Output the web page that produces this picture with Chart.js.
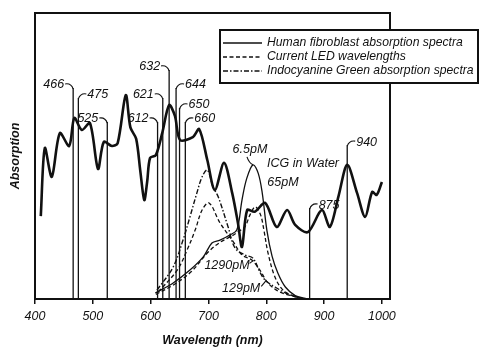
<!DOCTYPE html>
<html>
<head>
<meta charset="utf-8">
<script src="https://cdn.jsdelivr.net/npm/chart.js@4.4.0/dist/chart.umd.min.js"></script>
<style>
  html, body { margin: 0; padding: 0; background: #fff; }
  canvas { display: block; }
</style>
</head>
<body>
<canvas id="chart" width="500" height="362"></canvas>
<script>
// human fibroblast absorption (nm, relative absorption)
const fibroNm = [410, 417, 429, 443, 459, 468, 481, 495, 509, 519, 533, 543, 557, 565, 575, 582, 589, 594, 599, 609, 620, 632, 642, 651, 673, 684, 698, 711, 727, 741, 751, 758, 767, 780, 798, 818, 836, 850, 872, 896, 910, 925, 940, 957, 971, 983, 991, 1000];
const fibroAbs = [29, 52.8, 42.7, 58, 53.5, 63.3, 59.1, 61.5, 45.5, 54.9, 53.5, 54.5, 71.3, 60, 56, 45, 34.6, 41, 49.3, 50.3, 58, 67.8, 64, 55.6, 56.6, 59.4, 48.6, 38.1, 47.6, 37.1, 26.6, 18.2, 31.1, 30.5, 33.6, 25.2, 31.1, 25.9, 23.4, 31.1, 25.2, 36, 46.9, 37.1, 28.7, 37.4, 36.4, 40.9];

// ICG in water, four concentrations
const icg6Nm = [608, 639, 668, 691, 706, 720, 737, 749, 758, 766, 777, 786, 793, 801, 810, 820, 833, 850, 868];
const icg6Abs = [2.1, 5.6, 10.1, 14.7, 19.6, 20.6, 22.4, 24.1, 34.6, 42, 46.9, 44, 37.1, 24.1, 15, 9.1, 4.2, 1.2, 0.2];

const icg65Nm = [609, 640, 670, 700, 720, 740, 752, 763, 772, 781, 790, 796, 803, 815, 829, 850, 868];
const icg65Abs = [1.6, 5, 9.5, 16.5, 19.8, 22, 23.6, 25.2, 29.5, 32.2, 29.5, 24, 16.1, 7.7, 3.1, 0.8, 0];

const icg1290Nm = [611, 639, 656, 668, 680, 689, 698, 708, 717, 734, 746, 763, 777, 789, 798, 815, 841, 867];
const icg1290Abs = [3.1, 11.2, 20.6, 28.7, 37.1, 42.7, 45.1, 39.2, 35.7, 25.2, 17.8, 15.4, 14.3, 9.4, 6.6, 4.2, 1.4, 0];

const icg129Nm = [613, 646, 663, 677, 689, 701, 720, 743, 758, 775, 789, 803, 824, 867];
const icg129Abs = [2.4, 10.1, 17.1, 24.1, 31.1, 33.6, 26.6, 20, 15.4, 13.6, 10.1, 5.6, 2.4, 0];

// LED wavelengths, height of marker line, which side the label sits
const ledNm = [466, 475, 525, 612, 621, 632, 644, 650, 660, 875, 940];
const ledTop = [73.8, 70.3, 61.9, 61.9, 70.3, 80.1, 73.8, 66.8, 61.9, 31.8, 53.8];
const ledSide = ['left', 'right', 'left', 'left', 'left', 'left', 'right', 'right', 'right', 'right', 'right'];

// concentration labels: text, and the curve point (nm, abs) they point at
const icgLabels = ['6.5pM', '65pM', '1290pM', '129pM'];
const icgLabelNm = [777, 0, 778, 800];
const icgLabelAbs = [46.9, 0, 13.5, 6.5];

const xTicks = [400, 500, 600, 700, 800, 900, 1000];
const legendText = ['Human fibroblast absorption spectra', 'Current LED wavelengths', 'Indocyanine Green absorption spectra'];

const FONT = '"Liberation Sans", Arial, sans-serif';

const pts = (xs, ys) => xs.map((x, i) => ({ x: x, y: ys[i] }));

let datasets = [];
ledNm.forEach((nm, i) => {
    datasets.push({
        data: [{ x: nm, y: 0 }, { x: nm, y: ledTop[i] }],
        borderColor: '#111',
        borderWidth: 1.3,
    });
});
datasets.push({ data: pts(icg129Nm, icg129Abs), borderColor: '#111', borderWidth: 1.3, borderDash: [4, 2.5], tension: 0.35 });
datasets.push({ data: pts(icg1290Nm, icg1290Abs), borderColor: '#111', borderWidth: 1.4, borderDash: [5, 2, 1.5, 2], tension: 0.35 });
datasets.push({ data: pts(icg65Nm, icg65Abs), borderColor: '#111', borderWidth: 1.3, borderDash: [4, 2.5], tension: 0.35 });
datasets.push({ data: pts(icg6Nm, icg6Abs), borderColor: '#111', borderWidth: 1.3, tension: 0.35 });
datasets.push({ data: pts(fibroNm, fibroAbs), borderColor: '#111', borderWidth: 2.6, tension: 0.3 });

// frame, LED labels, concentration labels, legend
const decorations = {
    id: 'decorations',
    afterDatasetsDraw(chart) {
        const ctx = chart.ctx;
        const a = chart.chartArea;
        const xs = chart.scales.x;
        const ys = chart.scales.y;
        ctx.save();
        ctx.strokeStyle = '#111';
        ctx.lineWidth = 2;
        ctx.strokeRect(a.left, a.top, a.right - a.left, a.bottom - a.top);

        ctx.fillStyle = '#111';
        ctx.font = 'italic 12.5px ' + FONT;
        ctx.textBaseline = 'middle';
        ctx.lineWidth = 1.1;
        ledNm.forEach((nm, i) => {
            const px = xs.getPixelForValue(nm);
            const py = ys.getPixelForValue(ledTop[i]);
            const s = ledSide[i] == 'left' ? -1 : 1;
            ctx.beginPath();
            ctx.moveTo(px, py + 1);
            ctx.quadraticCurveTo(px + s * 2, py - 5, px + s * 8, py - 4);
            ctx.stroke();
            ctx.textAlign = s < 0 ? 'right' : 'left';
            ctx.fillText(String(nm), px + s * 9, py - 3);
        });

        // concentration labels
        const p6 = [xs.getPixelForValue(icgLabelNm[0]), ys.getPixelForValue(icgLabelAbs[0])];
        ctx.textAlign = 'center';
        ctx.fillText(icgLabels[0], p6[0] - 3, p6[1] - 15);
        ctx.beginPath();
        ctx.moveTo(p6[0] - 6, p6[1] - 8);
        ctx.quadraticCurveTo(p6[0] - 4, p6[1] - 2, p6[0], p6[1]);
        ctx.stroke();

        ctx.fillText('ICG in Water', 303, 164);
        ctx.fillText(icgLabels[1], 283, 183);

        const p1290 = [xs.getPixelForValue(icgLabelNm[2]), ys.getPixelForValue(icgLabelAbs[2])];
        ctx.textAlign = 'right';
        ctx.fillText(icgLabels[2], p1290[0] - 4, p1290[1] + 5);
        ctx.beginPath();
        ctx.moveTo(p1290[0] - 4, p1290[1] + 3);
        ctx.lineTo(p1290[0], p1290[1]);
        ctx.stroke();
        const p129 = [xs.getPixelForValue(icgLabelNm[3]), ys.getPixelForValue(icgLabelAbs[3])];
        ctx.fillText(icgLabels[3], p129[0] - 6, p129[1] + 8);
        ctx.beginPath();
        ctx.moveTo(p129[0] - 5, p129[1] + 6);
        ctx.lineTo(p129[0], p129[1]);
        ctx.stroke();

        // legend box, overlapping the right frame edge
        const lx = 220, ly = 30, lw = 258, lh = 53;
        ctx.fillStyle = '#fff';
        ctx.fillRect(lx, ly, lw, lh);
        ctx.lineWidth = 2;
        ctx.strokeRect(lx, ly, lw, lh);
        const dashes = [[], [4, 2.5], [5, 2, 1.5, 2]];
        ctx.fillStyle = '#111';
        ctx.font = 'italic 12.2px ' + FONT;
        ctx.textAlign = 'left';
        ctx.lineWidth = 1.3;
        legendText.forEach((t, i) => {
            const yy = ly + 13 + i * 14;
            ctx.setLineDash(dashes[i]);
            ctx.beginPath();
            ctx.moveTo(lx + 3, yy);
            ctx.lineTo(lx + 42, yy);
            ctx.stroke();
            ctx.setLineDash([]);
            ctx.fillText(t, lx + 47, yy);
        });
        ctx.restore();
    },
};

new Chart(document.getElementById('chart'), {
    type: 'line',
    data: { datasets: datasets },
    options: {
        responsive: false,
        animation: false,
        events: [],
        layout: { padding: { top: 13, right: 110, left: 0, bottom: 0 } },
        elements: { point: { radius: 0 } },
        plugins: { legend: { display: false }, tooltip: { enabled: false } },
        scales: {
            x: {
                type: 'linear',
                min: 400,
                max: 1014,
                afterFit: (s) => { s.height = 63; },
                afterBuildTicks: (s) => { s.ticks = xTicks.map((v) => ({ value: v })); },
                border: { display: false },
                grid: { drawOnChartArea: false, drawTicks: true, tickLength: 5, color: '#111', lineWidth: 1.5 },
                ticks: {
                    color: '#111',
                    padding: 5,
                    maxRotation: 0,
                    callback: (v) => String(v),
                    font: { family: FONT, size: 12.5, style: 'italic' },
                },
                title: {
                    display: true,
                    text: 'Wavelength (nm)',
                    color: '#111',
                    padding: { top: 0, bottom: 14 },
                    font: { family: FONT, size: 12.5, style: 'italic', weight: 'bold' },
                },
            },
            y: {
                min: 0,
                max: 100,
                afterFit: (s) => { s.width = 35; },
                border: { display: false },
                grid: { display: false },
                ticks: { display: false },
                title: {
                    display: true,
                    text: 'Absorption',
                    color: '#111',
                    padding: { top: 8, bottom: 0 },
                    font: { family: FONT, size: 12.5, style: 'italic', weight: 'bold' },
                },
            },
        },
    },
    plugins: [decorations],
});
</script>
</body>
</html>
